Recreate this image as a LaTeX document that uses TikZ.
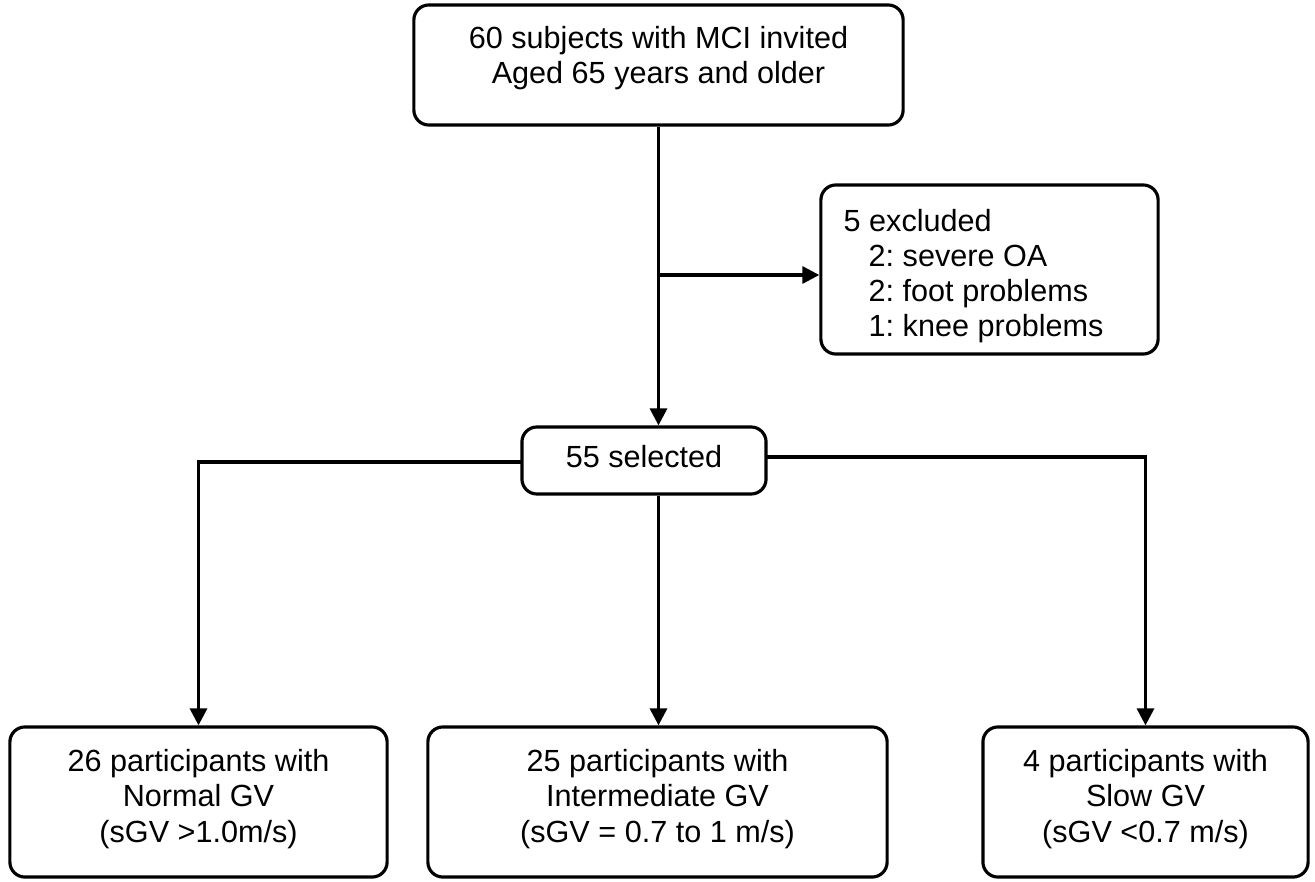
\documentclass[tikz,border=0pt]{standalone}
\usepackage{fontspec}
\setmainfont{Liberation Sans}
\frenchspacing
\usetikzlibrary{arrows.meta}
\begin{document}
\begin{tikzpicture}[x=0.01cm,y=-0.01cm,
  box/.style={draw,line width=0.9pt,rounded corners=0.15cm,inner sep=0pt},
  txt/.style={inner sep=0pt,font=\fontsize{8.7pt}{10pt}\selectfont,align=center},
  arr/.style={line width=0.9pt,-{Triangle[width=0.17cm,length=0.17cm]}}]
\useasboundingbox (0,0) rectangle (1315,882);
\node[box,minimum width=4.89cm,minimum height=1.20cm] (top) at (658.5,65) {};
\node[box,minimum width=3.37cm,minimum height=1.69cm] (exc) at (989.5,269.5) {};
\node[box,minimum width=2.44cm,minimum height=0.67cm] (sel) at (644,460.5) {};
\node[box,minimum width=3.77cm,minimum height=1.50cm] (bl) at (198.5,802) {};
\node[box,minimum width=4.59cm,minimum height=1.50cm] (bm) at (657.5,802) {};
\node[box,minimum width=3.25cm,minimum height=1.50cm] (br) at (1145.5,802) {};
\node[txt] (toptxt) at (658.5,58) {60 subjects with MCI invited\\Aged 65 years and older};
\node[txt,align=left,anchor=west] (exctxt) at (843,276) {5 excluded\\\hspace{0.25cm}2: severe OA\\\hspace{0.25cm}2: foot problems\\\hspace{0.25cm}1: knee problems};
\node[txt] (seltxt) at (644,457) {55 selected};
\node[txt] (bltxt) at (198.5,799) {26 participants with\\Normal GV\\(sGV >1.0m/s)};
\node[txt] (bmtxt) at (657.5,799) {25 participants with\\Intermediate GV\\(sGV = 0.7 to 1 m/s)};
\node[txt] (brtxt) at (1145.5,799) {4 participants with\\Slow GV\\(sGV <0.7 m/s)};
\coordinate (branch) at (658.5,275);
\coordinate (selL) at (522,462);
\coordinate (selR) at (766,457);
\draw[arr] (top.south) -- (top.south |- sel.north);
\draw[arr] (branch) -- (branch -| exc.west);
\draw[arr] (selL) -| (bl.north);
\draw[arr] (selR) -| (br.north);
\draw[arr] (sel.south -| top.south) -- (top.south |- bm.north);
\end{tikzpicture}
\end{document}
